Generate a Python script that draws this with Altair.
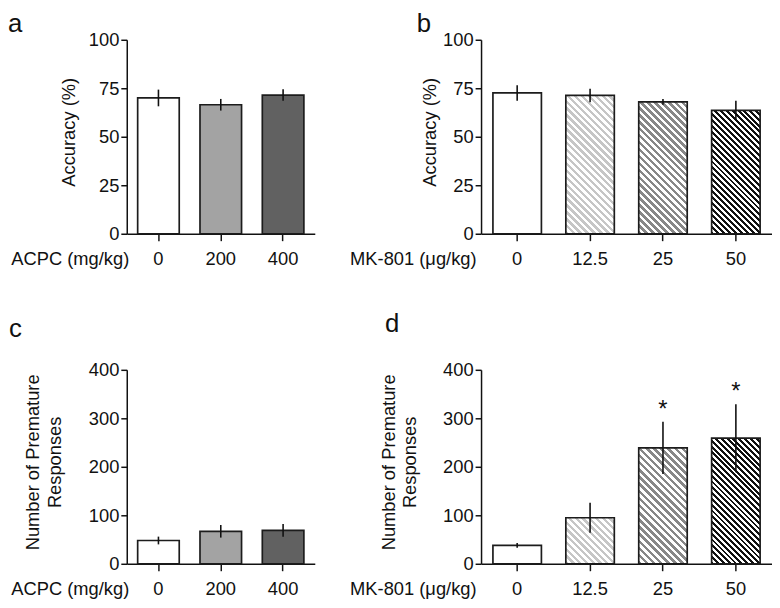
import math
import altair as alt
import pandas as pd

# ---------------- data ----------------
acpc_doses = ["0", "200", "400"]
acpc_accuracy = [70.0, 66.5, 71.5]
acpc_accuracy_sem = [4.3, 3.0, 3.0]
acpc_premature = [48, 67, 69]
acpc_premature_sem = [8, 13, 13]

mk_doses = ["0", "12.5", "25", "50"]
mk_accuracy = [72.6, 71.3, 68.0, 63.6]
mk_accuracy_sem = [4.0, 3.5, 1.5, 5.0]
mk_premature = [38, 95, 239, 259]
mk_premature_sem = [5, 31, 54, 70]
mk_significance = ["", "", "*", "*"]

acc_ticks = [0, 25, 50, 75, 100]
prem_ticks = [0, 100, 200, 300, 400]

# ---------------- style ----------------
FONT = "Liberation Sans"
INK = "#111111"
PLOT_H = 196
LEFT_W = 190
RIGHT_W = 294
LEFT_PI, LEFT_PO = 0.333, 0.175
RIGHT_PI, RIGHT_PO = 0.335, 0.163
FS = 18.5


def band_width(total, n, pi, po):
    step = total / (n - pi + 2 * po)
    return step * (1 - pi)


def hatch(fg, w, h, period, frac=0.5, bg="#ffffff"):
    """diagonal '\\' stripes as a sharp-stop linear gradient (bbox units)"""
    h = max(h, 1.0)
    r = h / w
    s = (1 + r) / (1 + r * r)
    n = max(1, round((w + h) / (math.sqrt(2) * period)))
    stops = []
    for k in range(n):
        a = round(k / n, 6)
        b = round(min(1.0, (k + frac) / n), 6)
        c = round(min(1.0, (k + 1) / n), 6)
        stops += [
            alt.GradientStop(offset=a, color=fg),
            alt.GradientStop(offset=b, color=fg),
            alt.GradientStop(offset=b, color=bg),
            alt.GradientStop(offset=c, color=bg),
        ]
    return alt.LinearGradient(gradient="linear", stops=stops,
                              x1=0, y1=1, x2=s, y2=1 - r * s)


def mk_fills(values, ymax):
    w = band_width(RIGHT_W, len(mk_doses), RIGHT_PI, RIGHT_PO)
    hs = [v / ymax * PLOT_H for v in values]
    return [
        "#ffffff",
        hatch("#c6c6c6", w, hs[1], 5.0, 0.5),
        hatch("#888888", w, hs[2], 5.0, 0.5),
        hatch("#111111", w, hs[3], 4.2, 0.5),
    ]


acpc_fills = ["#ffffff", "#a3a3a3", "#616161"]


def panel(doses, vals, sems, fills, ymax, yticks, ytitle, ytitle_pad,
          xtitle, xtitle_x, letter, letter_dx, letter_dy, width, pi, po,
          sig=None):
    n = len(doses)
    df = pd.DataFrame({
        "dose": doses,
        "value": vals,
        "lo": [v - e for v, e in zip(vals, sems)],
        "hi": [v + e for v, e in zip(vals, sems)],
        "sig": sig if sig else [""] * n,
    })
    xaxis = alt.Axis(
        title=xtitle, titleX=xtitle_x, titleY=31, titleAlign="right",
        titleBaseline="alphabetic", titleAngle=0, titleFontWeight="normal",
        titleFontSize=FS, titleColor=INK, labelAngle=0, labelFontSize=FS,
        labelColor=INK, labelPadding=9, tickSize=7, tickWidth=1.5,
        tickColor=INK, domainColor=INK, domainWidth=1.5,
    )
    yaxis = alt.Axis(
        title=ytitle, values=yticks, grid=False, titleFontWeight="normal",
        titleFontSize=FS, titleColor=INK, titlePadding=ytitle_pad,
        titleLineHeight=22, titleY=PLOT_H / 2 - 5,
        labelFontSize=FS, labelColor=INK, labelPadding=2, tickSize=6,
        tickWidth=1.5, tickColor=INK, domainColor=INK, domainWidth=1.5,
    )
    xscale = alt.Scale(domain=doses, paddingInner=pi, paddingOuter=po)
    yscale = alt.Scale(domain=[0, ymax], nice=False, zero=True)
    x = alt.X("dose:N", sort=doses, scale=xscale, axis=xaxis)
    base = alt.Chart(df)
    layers = []
    for d, f in zip(doses, fills):
        layers.append(
            base.transform_filter(alt.datum.dose == d)
            .mark_bar(fill=f, stroke="#1c1c1c", strokeWidth=1.7)
            .encode(x=x, y=alt.Y("value:Q", scale=yscale, axis=yaxis))
        )
    layers.append(
        base.mark_rule(color=INK, strokeWidth=1.6).encode(
            x=x,
            y=alt.Y("lo:Q", scale=yscale, axis=yaxis),
            y2="hi:Q",
        )
    )
    if sig:
        layers.append(
            base.mark_text(font=FONT, fontSize=24, baseline="alphabetic",
                           dy=-5, color=INK).encode(
                x=x,
                y=alt.Y("hi:Q", scale=yscale, axis=yaxis),
                text="sig:N",
            )
        )
    return alt.layer(*layers).properties(
        width=width,
        height=PLOT_H,
        title=alt.TitleParams(
            text=letter, anchor="start", frame="group", fontSize=26,
            fontWeight="normal", font=FONT, color=INK, dx=letter_dx,
            dy=letter_dy, offset=0, baseline="alphabetic",
        ),
    )


pa = panel(acpc_doses, acpc_accuracy, acpc_accuracy_sem, acpc_fills, 100,
           acc_ticks, "Accuracy (%)", 10, "ACPC (mg/kg)", 2, "a", -120, 27,
           LEFT_W, LEFT_PI, LEFT_PO)
pb = panel(mk_doses, mk_accuracy, mk_accuracy_sem, mk_fills(mk_accuracy, 100),
           100, acc_ticks, "Accuracy (%)", 3, "MK-801 (\u03bcg/kg)", -5, "b",
           -65, 27, RIGHT_W, RIGHT_PI, RIGHT_PO)
pc = panel(acpc_doses, acpc_premature, acpc_premature_sem, acpc_fills, 400,
           prem_ticks, ["Number of Premature", "Responses"], 24,
           "ACPC (mg/kg)", 2, "c", -119, 1.5, LEFT_W, LEFT_PI, LEFT_PO)
pd_ = panel(mk_doses, mk_premature, mk_premature_sem,
            mk_fills(mk_premature, 400), 400, prem_ticks,
            ["Number of Premature", "Responses"], 23, "MK-801 (\u03bcg/kg)", -5,
            "d", -97, -3.5, RIGHT_W, RIGHT_PI, RIGHT_PO, sig=mk_significance)

chart = (
    alt.concat(pa, pb, pc, pd_, columns=2, align="each", bounds="flush",
               spacing=alt.RowColnumber(row=137.5, column=168))
    .properties(padding=0)
    .configure(font=FONT)
    .configure_view(stroke=None)
)

chart.save("out.html", embed_options={"renderer": "svg", "actions": False})
